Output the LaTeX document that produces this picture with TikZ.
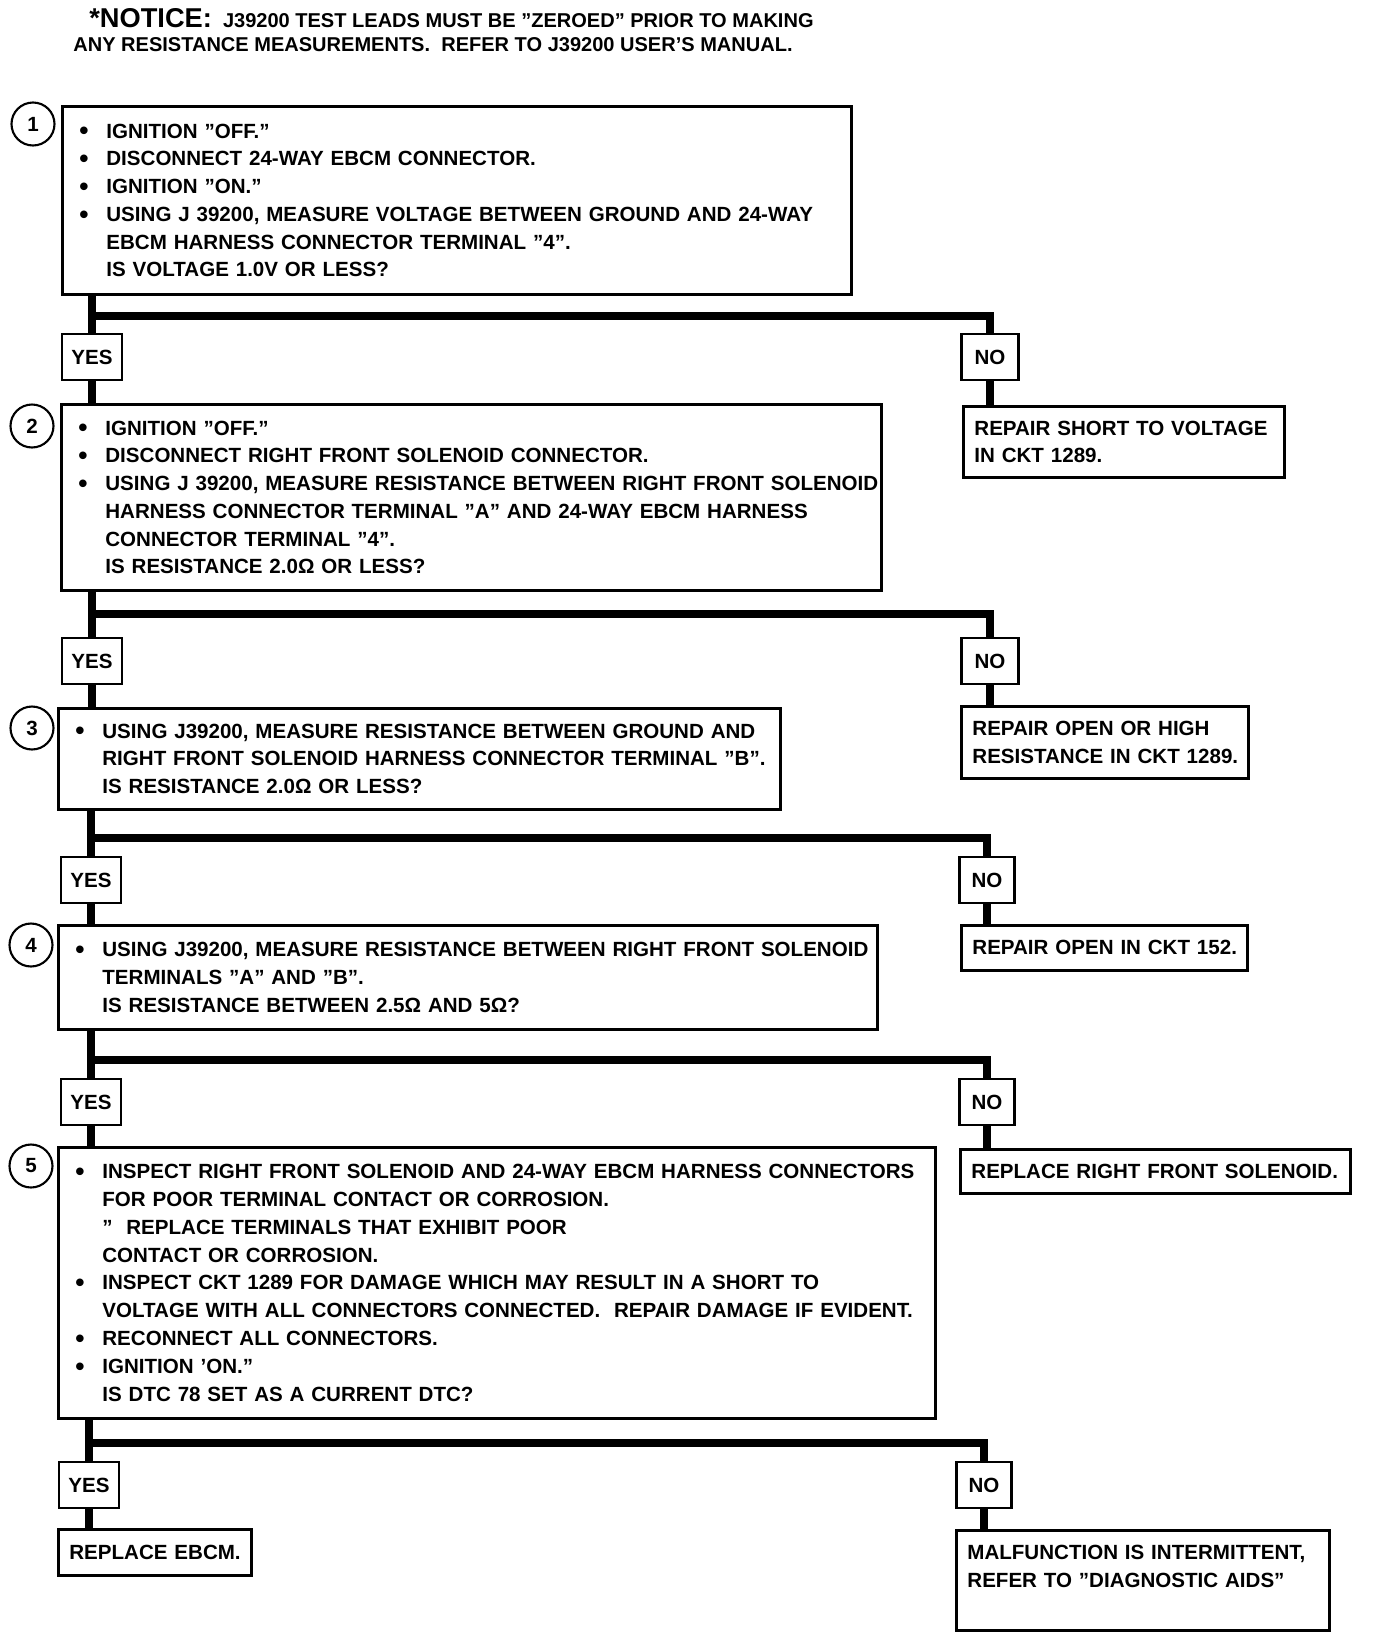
\documentclass[tikz,border=0pt]{standalone}
\usepackage{fontspec}
\setmainfont{Liberation Sans}
\usetikzlibrary{calc}
\newcommand{\pto}[1]{\makebox[0.54cm][l]{\raisebox{-1pt}{\fontsize{15}{15}\selectfont\textbullet}}\mbox{#1}}
\newcommand{\sig}[1]{\hspace*{0.54cm}\mbox{#1}}
\tikzset{
  prueba/.style={rectangle, draw, line width=1.6pt, anchor=north west, align=left,
                 inner xsep=0.34cm, inner ysep=0pt},
  accion/.style={rectangle, draw, line width=1.6pt, anchor=north west, align=left,
                 inner xsep=0.22cm, inner ysep=0pt},
  resp/.style={rectangle, draw, line width=1.6pt, minimum width=1.2cm, minimum height=0.92cm, inner sep=0pt},
  numero/.style={circle, draw, line width=1.2pt, minimum size=0.86cm, inner sep=0pt},
  linea/.style={line width=4.6pt}
}

\begin{document}
\begin{tikzpicture}[x=0.02cm, y=-0.02cm, font=\bfseries\fontsize{11.7}{15.8}\selectfont]
  \useasboundingbox (0,0) rectangle (1376,1640);
  \node (aviso) [anchor=north west, align=left, inner sep=0pt, font=\bfseries\fontsize{11.4}{13.6}\selectfont] at (73,8)
    {\hspace*{0.32cm}{\fontsize{15.5}{13.6}\selectfont *NOTICE:}\ \ J39200 TEST LEADS MUST BE "ZEROED" PRIOR TO MAKING\\
     ANY RESISTANCE MEASUREMENTS.\ \ REFER TO J39200 USER'S MANUAL.};

  % pasos de prueba
  \node (c1) [numero] at (33,124) {1};
  \node (p1) [prueba, text width=15.10cm, minimum height=3.76cm] at (61,105)
    {\pto{IGNITION "OFF."}\\ \pto{DISCONNECT 24-WAY EBCM CONNECTOR.}\\ \pto{IGNITION "ON."}\\
     \pto{USING J 39200, MEASURE VOLTAGE BETWEEN GROUND AND 24-WAY}\\
     \sig{EBCM HARNESS CONNECTOR TERMINAL "4".}\\ \sig{IS VOLTAGE 1.0V OR LESS?}};
  \node (c2) [numero] at (32,426) {2};
  \node (p2) [prueba, text width=15.72cm, minimum height=3.72cm] at (60,403)
    {\pto{IGNITION "OFF."}\\ \pto{DISCONNECT RIGHT FRONT SOLENOID CONNECTOR.}\\
     \pto{USING J 39200, MEASURE RESISTANCE BETWEEN RIGHT FRONT SOLENOID}\\
     \sig{HARNESS CONNECTOR TERMINAL "A" AND 24-WAY EBCM HARNESS}\\
     \sig{CONNECTOR TERMINAL "4".}\\ \sig{IS RESISTANCE 2.0Ω OR LESS?}};
  \node (c3) [numero] at (32,728) {3};
  \node (p3) [prueba, text width=13.76cm, minimum height=2.02cm] at (57,707)
    {\pto{USING J39200, MEASURE RESISTANCE BETWEEN GROUND AND}\\
     \sig{RIGHT FRONT SOLENOID HARNESS CONNECTOR TERMINAL "B".}\\ \sig{IS RESISTANCE 2.0Ω OR LESS?}};
  \node (c4) [numero] at (31,945) {4};
  \node (p4) [prueba, text width=15.70cm, minimum height=2.08cm] at (57,924)
    {\pto{USING J39200, MEASURE RESISTANCE BETWEEN RIGHT FRONT SOLENOID}\\
     \sig{TERMINALS "A" AND "B".}\\ \sig{IS RESISTANCE BETWEEN 2.5Ω AND 5Ω?}};
  \node (c5) [numero] at (31,1166) {5};
  \node (p5) [prueba, text width=16.86cm, minimum height=5.42cm] at (57,1146)
    {\pto{INSPECT RIGHT FRONT SOLENOID AND 24-WAY EBCM HARNESS CONNECTORS}\\
     \sig{FOR POOR TERMINAL CONTACT OR CORROSION.}\\
     \sig{"\ \ REPLACE TERMINALS THAT EXHIBIT POOR}\\ \sig{CONTACT OR CORROSION.}\\
     \pto{INSPECT CKT 1289 FOR DAMAGE WHICH MAY RESULT IN A SHORT TO}\\
     \sig{VOLTAGE WITH ALL CONNECTORS CONNECTED.\ \ REPAIR DAMAGE IF EVIDENT.}\\
     \pto{RECONNECT ALL CONNECTORS.}\\ \pto{IGNITION 'ON."}\\ \sig{IS DTC 78 SET AS A CURRENT DTC?}};

  % respuestas
  \node (si1) [resp] at (92,357) {YES};   \node (no1) [resp, minimum width=1.14cm] at (990,357) {NO};
  \node (si2) [resp] at (92,661) {YES};   \node (no2) [resp, minimum width=1.14cm] at (990,661) {NO};
  \node (si3) [resp] at (91,880) {YES};   \node (no3) [resp, minimum width=1.1cm] at (987,880) {NO};
  \node (si4) [resp] at (91,1102) {YES};  \node (no4) [resp, minimum width=1.1cm] at (987,1102) {NO};
  \node (si5) [resp] at (89,1485) {YES};  \node (no5) [resp, minimum width=1.1cm] at (984,1485) {NO};

  % acciones
  \node (r1) [accion, text width=5.98cm, minimum height=1.42cm] at (962,405)
    {\mbox{REPAIR SHORT TO VOLTAGE}\\ \mbox{IN CKT 1289.}};
  \node (r2) [accion, text width=5.30cm, minimum height=1.44cm] at (960,705)
    {\mbox{REPAIR OPEN OR HIGH}\\ \mbox{RESISTANCE IN CKT 1289.}};
  \node (r3) [accion, text width=5.28cm, minimum height=0.90cm] at (960,924) {\mbox{REPAIR OPEN IN CKT 152.}};
  \node (r4) [accion, text width=7.36cm, minimum height=0.88cm] at (959,1148) {\mbox{REPLACE RIGHT FRONT SOLENOID.}};
  \node (r5) [accion, text width=7.02cm, minimum height=2.0cm] at (955,1529)
    {\mbox{MALFUNCTION IS INTERMITTENT,}\\ \mbox{REFER TO "DIAGNOSTIC AIDS"}\\ \mbox{}};
  \node (r6) [accion, text width=3.42cm, minimum height=0.92cm] at (57,1528) {\mbox{REPLACE EBCM.}};

  % ramas
  \coordinate (b1) at (92,316);
  \coordinate (b2) at (92,614);
  \coordinate (b3) at (91,838);
  \coordinate (b4) at (91,1060);
  \coordinate (b5) at (89,1443);
  \draw [linea] (p1.south -| b1) -- (si1.north); \draw [linea] (b1) -| (no1.north);
  \draw [linea] (si1.south) -- (p2.north -| si1); \draw [linea] (no1.south) -- (r1.north -| no1);
  \draw [linea] (p2.south -| b2) -- (si2.north); \draw [linea] (b2) -| (no2.north);
  \draw [linea] (si2.south) -- (p3.north -| si2); \draw [linea] (no2.south) -- (r2.north -| no2);
  \draw [linea] (p3.south -| b3) -- (si3.north); \draw [linea] (b3) -| (no3.north);
  \draw [linea] (si3.south) -- (p4.north -| si3); \draw [linea] (no3.south) -- (r3.north -| no3);
  \draw [linea] (p4.south -| b4) -- (si4.north); \draw [linea] (b4) -| (no4.north);
  \draw [linea] (si4.south) -- (p5.north -| si4); \draw [linea] (no4.south) -- (r4.north -| no4);
  \draw [linea] (p5.south -| b5) -- (si5.north); \draw [linea] (b5) -| (no5.north);
  \draw [linea] (si5.south) -- (r6.north -| si5); \draw [linea] (no5.south) -- (r5.north -| no5);
\end{tikzpicture}
\end{document}
